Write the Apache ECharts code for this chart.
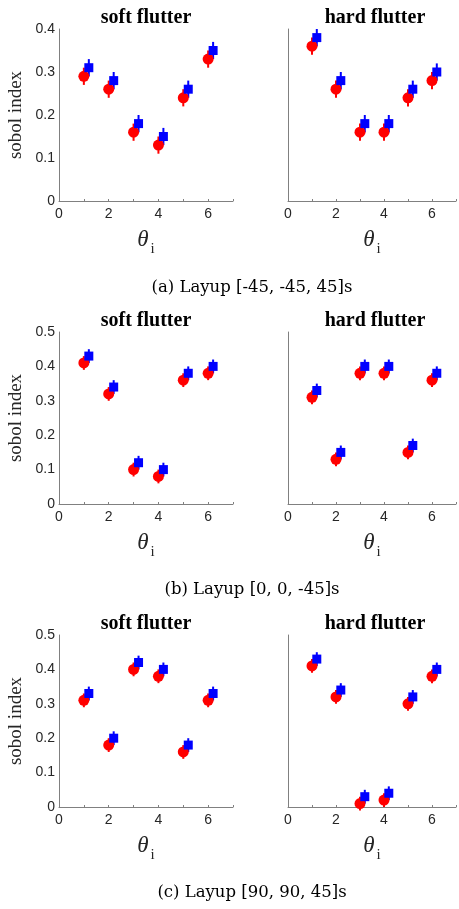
<!DOCTYPE html>
<html lang="en">
<head>
  <meta charset="UTF-8">
  <title>sobol index</title>
  <script src="https://cdn.jsdelivr.net/npm/echarts@6/dist/echarts.min.js"></script>
  <style>
    html, body { margin: 0; padding: 0; background: #fff; }
  </style>
</head>
<body>
<div id="main" style="width: 459px;height:909px;"></div>
<script type="text/javascript">
    // theta positions: red at i, blue shifted a little to the right
    var thetaRed = [1, 2, 3, 4, 5, 6];
    var thetaBlue = [1.2, 2.2, 3.2, 4.2, 5.2, 6.2];
    var errHalf = 0.02; // half length of the error bars

    // (a) Layup [-45,-45,45]s
    var aSoftRed = [0.29, 0.26, 0.16, 0.13, 0.24, 0.33];
    var aSoftBlue = [0.31, 0.28, 0.18, 0.15, 0.26, 0.35];
    var aHardRed = [0.36, 0.26, 0.16, 0.16, 0.24, 0.28];
    var aHardBlue = [0.38, 0.28, 0.18, 0.18, 0.26, 0.30];
    // (b) Layup [0,0,-45]s
    var bSoftRed = [0.41, 0.32, 0.10, 0.08, 0.36, 0.38];
    var bSoftBlue = [0.43, 0.34, 0.12, 0.10, 0.38, 0.40];
    var bHardRed = [0.31, 0.13, 0.38, 0.38, 0.15, 0.36];
    var bHardBlue = [0.33, 0.15, 0.40, 0.40, 0.17, 0.38];
    // (c) Layup [90,90,45]s
    var cSoftRed = [0.31, 0.18, 0.40, 0.38, 0.16, 0.31];
    var cSoftBlue = [0.33, 0.20, 0.42, 0.40, 0.18, 0.33];
    var cHardRed = [0.41, 0.32, 0.01, 0.02, 0.30, 0.38];
    var cHardBlue = [0.43, 0.34, 0.03, 0.04, 0.32, 0.40];

    var xTicks = [0, 2, 4, 6];
    var yMaxes = [0.4, 0.5, 0.5];
    var panelTitles = ['soft flutter', 'hard flutter'];
    var captions = ['(a) Layup [-45, -45, 45]s', '(b) Layup [0, 0, -45]s', '(c) Layup [90, 90, 45]s'];

    var panels = [
        [aSoftRed, aSoftBlue], [aHardRed, aHardBlue],
        [bSoftRed, bSoftBlue], [bHardRed, bHardBlue],
        [cSoftRed, cSoftBlue], [cHardRed, cHardBlue]
    ];

    var myChart = echarts.init(document.getElementById('main'));

    var serif = 'Liberation Serif';
    var sans = 'Liberation Sans';
    var axisGrey = '#808080';
    var textGrey = '#262626';

    var gridLefts = [59, 288];
    var gridTops = [29, 332, 635];
    var gridW = 174, gridH = 172;
    var captionY = [288, 590, 893];

    var grid = [], xAxis = [], yAxis = [], series = [], graphic = [];

    function pairs(xs, ys) {
        return xs.map(function (x, i) { return [x, ys[i], errHalf]; });
    }

    function errBar(color) {
        return function (params, api) {
            var x = api.value(0), y = api.value(1), e = api.value(2);
            var p1 = api.coord([x, y + e]);
            var p2 = api.coord([x, y - e]);
            return {
                type: 'line',
                shape: { x1: p1[0], y1: p1[1], x2: p2[0], y2: p2[1] },
                style: { stroke: color, lineWidth: 2 }
            };
        };
    }

    for (var row = 0; row < 3; row++) {
        for (var col = 0; col < 2; col++) {
            var k = row * 2 + col;
            grid.push({ left: gridLefts[col], top: gridTops[row], width: gridW, height: gridH });
            xAxis.push({
                gridIndex: k,
                type: 'value',
                min: 0, max: 7, interval: 1,
                splitLine: { show: false },
                axisTick: {
                    show: true, inside: true, length: 2,
                    lineStyle: { color: axisGrey },
                    interval: function (i, v) { return xTicks.indexOf(v) >= 0; }
                },
                axisLine: { lineStyle: { color: axisGrey, width: 1 } },
                axisLabel: {
                    color: textGrey, fontFamily: sans, fontSize: 14, margin: 6,
                    formatter: function (v) { return xTicks.indexOf(v) >= 0 ? String(v) : ''; }
                },
                name: '{t|θ}{s|i}',
                nameLocation: 'middle',
                nameGap: 21,
                nameTextStyle: {
                    rich: {
                        t: { fontFamily: serif, fontStyle: 'italic', fontSize: 23, color: textGrey },
                        s: { fontFamily: serif, fontSize: 15, color: textGrey, padding: [20, 0, 0, 2] }
                    }
                }
            });
            yAxis.push({
                gridIndex: k,
                type: 'value',
                min: 0, max: yMaxes[row], interval: 0.1,
                splitLine: { show: false },
                axisTick: { show: false },
                axisLine: { show: true, lineStyle: { color: axisGrey, width: 1 } },
                axisLabel: { show: col === 0, color: textGrey, fontFamily: sans, fontSize: 14, margin: 4 },
                name: col === 0 ? 'sobol index' : '',
                nameLocation: 'middle',
                nameRotate: 90,
                nameGap: 33,
                nameTextStyle: { fontFamily: serif, fontSize: 19, color: textGrey }
            });

            var red = panels[k][0], blue = panels[k][1];
            series.push({
                type: 'custom', xAxisIndex: k, yAxisIndex: k,
                renderItem: errBar('#ff0000'), data: pairs(thetaRed, red), z: 1
            });
            series.push({
                type: 'custom', xAxisIndex: k, yAxisIndex: k,
                renderItem: errBar('#0000ff'), data: pairs(thetaBlue, blue), z: 1
            });
            series.push({
                type: 'scatter', xAxisIndex: k, yAxisIndex: k,
                symbol: 'circle', symbolSize: 11,
                itemStyle: { color: '#ff0000', opacity: 1 },
                data: pairs(thetaRed, red), z: 2
            });
            series.push({
                type: 'scatter', xAxisIndex: k, yAxisIndex: k,
                symbol: 'rect', symbolSize: 9,
                itemStyle: { color: '#0000ff', opacity: 1 },
                data: pairs(thetaBlue, blue), z: 3
            });

            // panel title
            graphic.push({
                type: 'text',
                x: gridLefts[col] + gridW / 2,
                y: gridTops[row] - 11,
                style: {
                    text: panelTitles[col],
                    font: 'bold 20px "' + serif + '"',
                    fill: '#000',
                    textAlign: 'center',
                    textVerticalAlign: 'middle'
                }
            });
        }
        graphic.push({
            type: 'text',
            x: 252,
            y: captionY[row],
            style: {
                text: captions[row],
                font: '16.5px "DejaVu Serif"',
                fill: '#000',
                textAlign: 'center',
                textVerticalAlign: 'middle'
            }
        });
    }

    var option = {
        animation: false,
        grid: grid,
        xAxis: xAxis,
        yAxis: yAxis,
        series: series,
        graphic: graphic
    };

    myChart.setOption(option);
</script>
</body>
</html>
